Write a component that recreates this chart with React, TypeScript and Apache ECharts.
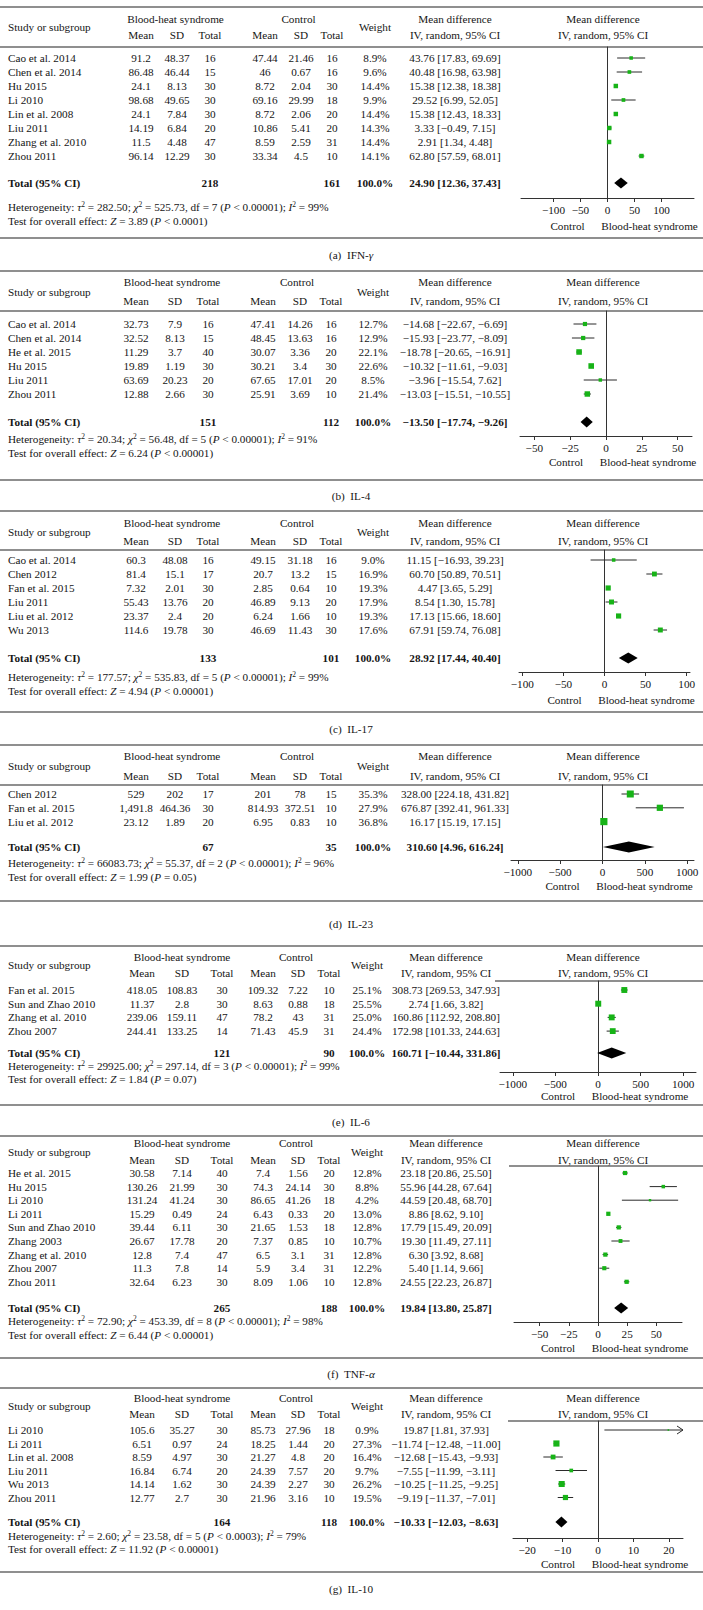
import React, { useEffect, useRef } from "react";
import * as echarts from "echarts";

const FONT = '"Liberation Serif", "DejaVu Serif", serif';
const FS = 11.2;
const INK = "#151515";
const RULE = "#6a6a6a";
const GREEN = "#17b317";

// ---------- (a) IFN-γ ----------
const IFN_STUDIES = ["Cao et al. 2014", "Chen et al. 2014", "Hu 2015", "Li 2010", "Lin et al. 2008", "Liu 2011", "Zhang et al. 2010", "Zhou 2011"];
const IFN_BH = [["91.2", "48.37", "16"], ["86.48", "46.44", "15"], ["24.1", "8.13", "30"], ["98.68", "49.65", "30"], ["24.1", "7.84", "30"], ["14.19", "6.84", "20"], ["11.5", "4.48", "47"], ["96.14", "12.29", "30"]];
const IFN_CT = [["47.44", "21.46", "16"], ["46", "0.67", "16"], ["8.72", "2.04", "30"], ["69.16", "29.99", "18"], ["8.72", "2.06", "20"], ["10.86", "5.41", "20"], ["8.59", "2.59", "31"], ["33.34", "4.5", "10"]];
const IFN_WEIGHT = [8.9, 9.6, 14.4, 9.9, 14.4, 14.3, 14.4, 14.1];
const IFN_MD = [[43.76, 17.83, 69.69], [40.48, 16.98, 63.98], [15.38, 12.38, 18.38], [29.52, 6.99, 52.05], [15.38, 12.43, 18.33], [3.33, -0.49, 7.15], [2.91, 1.34, 4.48], [62.8, 57.59, 68.01]];
const IFN_TOTAL_N = [218, 161];
const IFN_TOTAL_MD = [24.9, 12.36, 37.43];
const IFN_HET = ["282.50", "525.73", "7", "< 0.00001", "99"];
const IFN_Z = ["3.89", "< 0.0001"];
const IFN_TICKS = [-100, -50, 0, 50, 100];

// ---------- (b) IL-4 ----------
const IL4_STUDIES = ["Cao et al. 2014", "Chen et al. 2014", "He et al. 2015", "Hu 2015", "Liu 2011", "Zhou 2011"];
const IL4_BH = [["32.73", "7.9", "16"], ["32.52", "8.13", "15"], ["11.29", "3.7", "40"], ["19.89", "1.19", "30"], ["63.69", "20.23", "20"], ["12.88", "2.66", "30"]];
const IL4_CT = [["47.41", "14.26", "16"], ["48.45", "13.63", "16"], ["30.07", "3.36", "20"], ["30.21", "3.4", "30"], ["67.65", "17.01", "20"], ["25.91", "3.69", "10"]];
const IL4_WEIGHT = [12.7, 12.9, 22.1, 22.6, 8.5, 21.4];
const IL4_MD = [[-14.68, -22.67, -6.69], [-15.93, -23.77, -8.09], [-18.78, -20.65, -16.91], [-10.32, -11.61, -9.03], [-3.96, -15.54, 7.62], [-13.03, -15.51, -10.55]];
const IL4_TOTAL_N = [151, 112];
const IL4_TOTAL_MD = [-13.5, -17.74, -9.26];
const IL4_HET = ["20.34", "56.48", "5", "< 0.00001", "91"];
const IL4_Z = ["6.24", "< 0.00001"];
const IL4_TICKS = [-50, -25, 0, 25, 50];

// ---------- (c) IL-17 ----------
const IL17_STUDIES = ["Cao et al. 2014", "Chen 2012", "Fan et al. 2015", "Liu 2011", "Liu et al. 2012", "Wu 2013"];
const IL17_BH = [["60.3", "48.08", "16"], ["81.4", "15.1", "17"], ["7.32", "2.01", "30"], ["55.43", "13.76", "20"], ["23.37", "2.4", "20"], ["114.6", "19.78", "30"]];
const IL17_CT = [["49.15", "31.18", "16"], ["20.7", "13.2", "15"], ["2.85", "0.64", "10"], ["46.89", "9.13", "20"], ["6.24", "1.66", "10"], ["46.69", "11.43", "30"]];
const IL17_WEIGHT = [9.0, 16.9, 19.3, 17.9, 19.3, 17.6];
const IL17_MD = [[11.15, -16.93, 39.23], [60.7, 50.89, 70.51], [4.47, 3.65, 5.29], [8.54, 1.3, 15.78], [17.13, 15.66, 18.6], [67.91, 59.74, 76.08]];
const IL17_TOTAL_N = [133, 101];
const IL17_TOTAL_MD = [28.92, 17.44, 40.4];
const IL17_HET = ["177.57", "535.83", "5", "< 0.00001", "99"];
const IL17_Z = ["4.94", "< 0.00001"];
const IL17_TICKS = [-100, -50, 0, 50, 100];

// ---------- (d) IL-23 ----------
const IL23_STUDIES = ["Chen 2012", "Fan et al. 2015", "Liu et al. 2012"];
const IL23_BH = [["529", "202", "17"], ["1,491.8", "464.36", "30"], ["23.12", "1.89", "20"]];
const IL23_CT = [["201", "78", "15"], ["814.93", "372.51", "10"], ["6.95", "0.83", "10"]];
const IL23_WEIGHT = [35.3, 27.9, 36.8];
const IL23_MD = [[328.0, 224.18, 431.82], [676.87, 392.41, 961.33], [16.17, 15.19, 17.15]];
const IL23_TOTAL_N = [67, 35];
const IL23_TOTAL_MD = [310.6, 4.96, 616.24];
const IL23_HET = ["66083.73", "55.37", "2", "< 0.00001", "96"];
const IL23_Z = ["1.99", "= 0.05"];
const IL23_TICKS = [-1000, -500, 0, 500, 1000];

// ---------- (e) IL-6 ----------
const IL6_STUDIES = ["Fan et al. 2015", "Sun and Zhao 2010", "Zhang et al. 2010", "Zhou 2007"];
const IL6_BH = [["418.05", "108.83", "30"], ["11.37", "2.8", "30"], ["239.06", "159.11", "47"], ["244.41", "133.25", "14"]];
const IL6_CT = [["109.32", "7.22", "10"], ["8.63", "0.88", "18"], ["78.2", "43", "31"], ["71.43", "45.9", "31"]];
const IL6_WEIGHT = [25.1, 25.5, 25.0, 24.4];
const IL6_MD = [[308.73, 269.53, 347.93], [2.74, 1.66, 3.82], [160.86, 112.92, 208.8], [172.98, 101.33, 244.63]];
const IL6_TOTAL_N = [121, 90];
const IL6_TOTAL_MD = [160.71, -10.44, 331.86];
const IL6_HET = ["29925.00", "297.14", "3", "< 0.00001", "99"];
const IL6_Z = ["1.84", "= 0.07"];
const IL6_TICKS = [-1000, -500, 0, 500, 1000];

// ---------- (f) TNF-α ----------
const TNF_STUDIES = ["He et al. 2015", "Hu 2015", "Li 2010", "Li 2011", "Sun and Zhao 2010", "Zhang 2003", "Zhang et al. 2010", "Zhou 2007", "Zhou 2011"];
const TNF_BH = [["30.58", "7.14", "40"], ["130.26", "21.99", "30"], ["131.24", "41.24", "30"], ["15.29", "0.49", "24"], ["39.44", "6.11", "30"], ["26.67", "17.78", "20"], ["12.8", "7.4", "47"], ["11.3", "7.8", "14"], ["32.64", "6.23", "30"]];
const TNF_CT = [["7.4", "1.56", "20"], ["74.3", "24.14", "30"], ["86.65", "41.26", "18"], ["6.43", "0.33", "20"], ["21.65", "1.53", "18"], ["7.37", "0.85", "10"], ["6.5", "3.1", "31"], ["5.9", "3.4", "31"], ["8.09", "1.06", "10"]];
const TNF_WEIGHT = [12.8, 8.8, 4.2, 13.0, 12.8, 10.7, 12.8, 12.2, 12.8];
const TNF_MD = [[23.18, 20.86, 25.5], [55.96, 44.28, 67.64], [44.59, 20.48, 68.7], [8.86, 8.62, 9.1], [17.79, 15.49, 20.09], [19.3, 11.49, 27.11], [6.3, 3.92, 8.68], [5.4, 1.14, 9.66], [24.55, 22.23, 26.87]];
const TNF_TOTAL_N = [265, 188];
const TNF_TOTAL_MD = [19.84, 13.8, 25.87];
const TNF_HET = ["72.90", "453.39", "8", "< 0.00001", "98"];
const TNF_Z = ["6.44", "< 0.00001"];
const TNF_TICKS = [-50, -25, 0, 25, 50];

// ---------- (g) IL-10 ----------
const IL10_STUDIES = ["Li 2010", "Li 2011", "Lin et al. 2008", "Liu 2011", "Wu 2013", "Zhou 2011"];
const IL10_BH = [["105.6", "35.27", "30"], ["6.51", "0.97", "24"], ["8.59", "4.97", "30"], ["16.84", "6.74", "20"], ["14.14", "1.62", "30"], ["12.77", "2.7", "30"]];
const IL10_CT = [["85.73", "27.96", "18"], ["18.25", "1.44", "20"], ["21.27", "4.8", "20"], ["24.39", "7.57", "20"], ["24.39", "2.27", "30"], ["21.96", "3.16", "10"]];
const IL10_WEIGHT = [0.9, 27.3, 16.4, 9.7, 26.2, 19.5];
const IL10_MD = [[19.87, 1.81, 37.93], [-11.74, -12.48, -11.0], [-12.68, -15.43, -9.93], [-7.55, -11.99, -3.11], [-10.25, -11.25, -9.25], [-9.19, -11.37, -7.01]];
const IL10_TOTAL_N = [164, 118];
const IL10_TOTAL_MD = [-10.33, -12.03, -8.63];
const IL10_HET = ["2.60", "23.58", "5", "< 0.0003", "79"];
const IL10_Z = ["11.92", "< 0.00001"];
const IL10_TICKS = [-20, -10, 0, 10, 20];

const CAPTIONS = [["(a)", "IFN-", "γ"], ["(b)", "IL-4", ""], ["(c)", "IL-17", ""], ["(d)", "IL-23", ""], ["(e)", "IL-6", ""], ["(f)", "TNF-", "α"], ["(g)", "IL-10", ""]];

// ---------- layout (positions only) ----------
const COLS_A = [141, 177, 210, 265, 301, 332, 375, 455];
const COLS_B = [136, 175, 208, 263, 300, 331, 373, 455];
const COLS_E = [142, 182, 222, 263, 298, 329, 367, 446];

const LAYOUT = [
  { top: 7, h1: 19, h2: 35, hline: 47, hFull: true, row0: 58, rowH: 14, total: 183, het: 207, test: 221, axis: 198, lab: 226, bottom: 238, caption: 255, cols: COLS_A, gridL: 521, gridR: 694, xMin: -160, xMax: 160 },
  { top: 271, h1: 282, h2: 301, hline: 311, hFull: true, row0: 324, rowH: 14, total: 422, het: 439, test: 453, axis: 436, lab: 462, bottom: 480, caption: 496, cols: COLS_B, gridL: 520, gridR: 692, xMin: -60, xMax: 60 },
  { top: 511, h1: 523, h2: 541, hline: 550, hFull: true, row0: 560, rowH: 14, total: 658, het: 677, test: 691, axis: 672, lab: 700, bottom: 712, caption: 729, cols: COLS_B, gridL: 519, gridR: 690, xMin: -104, xMax: 104 },
  { top: 745, h1: 756, h2: 776, hline: 785, hFull: true, row0: 794, rowH: 13.8, total: 847, het: 863, test: 877, axis: 860, lab: 886, bottom: 901, caption: 924, cols: COLS_B, gridL: 511, gridR: 694, xMin: -1080, xMax: 1080 },
  { top: 946, h1: 957, h2: 973, hline: 981, hFull: false, row0: 990, rowH: 13.7, total: 1053, het: 1066, test: 1079, axis: 1072, lab: 1096, bottom: 1105, caption: 1122, cols: COLS_E, gridL: 500, gridR: 696, xMin: -1150, xMax: 1150 },
  { top: 1136, h1: 1143, h2: 1160, hline: 1166, hFull: false, row0: 1173, rowH: 13.6, total: 1308, het: 1321, test: 1335, axis: 1322, lab: 1348, bottom: 1358, caption: 1374, cols: COLS_E, gridL: 514, gridR: 682, xMin: -72, xMax: 72 },
  { top: 1388, h1: 1398, h2: 1414, hline: 1421, hFull: false, row0: 1430, rowH: 13.5, total: 1522, het: 1536, test: 1549, axis: 1538, lab: 1564, bottom: 1572, caption: 1589, cols: COLS_E, gridL: 513, gridR: 683, xMin: -24, xMax: 24 },
];

const PANELS = [
  { studies: IFN_STUDIES, bh: IFN_BH, ct: IFN_CT, weight: IFN_WEIGHT, md: IFN_MD, totalN: IFN_TOTAL_N, totalMd: IFN_TOTAL_MD, het: IFN_HET, z: IFN_Z, ticks: IFN_TICKS },
  { studies: IL4_STUDIES, bh: IL4_BH, ct: IL4_CT, weight: IL4_WEIGHT, md: IL4_MD, totalN: IL4_TOTAL_N, totalMd: IL4_TOTAL_MD, het: IL4_HET, z: IL4_Z, ticks: IL4_TICKS },
  { studies: IL17_STUDIES, bh: IL17_BH, ct: IL17_CT, weight: IL17_WEIGHT, md: IL17_MD, totalN: IL17_TOTAL_N, totalMd: IL17_TOTAL_MD, het: IL17_HET, z: IL17_Z, ticks: IL17_TICKS },
  { studies: IL23_STUDIES, bh: IL23_BH, ct: IL23_CT, weight: IL23_WEIGHT, md: IL23_MD, totalN: IL23_TOTAL_N, totalMd: IL23_TOTAL_MD, het: IL23_HET, z: IL23_Z, ticks: IL23_TICKS },
  { studies: IL6_STUDIES, bh: IL6_BH, ct: IL6_CT, weight: IL6_WEIGHT, md: IL6_MD, totalN: IL6_TOTAL_N, totalMd: IL6_TOTAL_MD, het: IL6_HET, z: IL6_Z, ticks: IL6_TICKS },
  { studies: TNF_STUDIES, bh: TNF_BH, ct: TNF_CT, weight: TNF_WEIGHT, md: TNF_MD, totalN: TNF_TOTAL_N, totalMd: TNF_TOTAL_MD, het: TNF_HET, z: TNF_Z, ticks: TNF_TICKS },
  { studies: IL10_STUDIES, bh: IL10_BH, ct: IL10_CT, weight: IL10_WEIGHT, md: IL10_MD, totalN: IL10_TOTAL_N, totalMd: IL10_TOTAL_MD, het: IL10_HET, z: IL10_Z, ticks: IL10_TICKS },
];

const num = (v: number) => v.toFixed(2).replace("-", "−");
const ci = (m: number[]) => `${num(m[0])} [${num(m[1])}, ${num(m[2])}]`;

const RICH = {
  i: { fontStyle: "italic", fontSize: FS, fontFamily: FONT, lineHeight: 14, fill: INK, color: INK },
  sup: { fontSize: 7.5, fontFamily: FONT, lineHeight: 9, verticalAlign: "top", fill: INK, color: INK },
  n: { fontSize: FS, fontFamily: FONT, lineHeight: 14, fill: INK, color: INK },
};

function txt(x: number, y: number, text: string, align = "center", bold = false) {
  return {
    type: "text",
    x,
    y,
    silent: true,
    style: {
      text,
      fill: INK,
      fontSize: FS,
      fontFamily: FONT,
      fontWeight: bold ? "bold" : "normal",
      align,
      verticalAlign: "middle",
      textAlign: align,
      textVerticalAlign: "middle",
    },
  };
}

function richTxt(x: number, y: number, text: string, align = "left") {
  return {
    type: "text",
    x,
    y,
    silent: true,
    style: {
      text,
      fill: INK,
      fontSize: FS,
      fontFamily: FONT,
      lineHeight: 14,
      align,
      verticalAlign: "middle",
      textAlign: align,
      textVerticalAlign: "middle",
      rich: RICH,
    },
  };
}

function rule(x1: number, x2: number, y: number) {
  return { type: "line", silent: true, shape: { x1, y1: y, x2, y2: y }, style: { stroke: RULE, lineWidth: 1.3 } };
}

function buildOption() {
  const graphic: any[] = [];
  const grid: any[] = [];
  const xAxis: any[] = [];
  const yAxis: any[] = [];
  const series: any[] = [];

  PANELS.forEach((p, pi) => {
    const L = LAYOUT[pi];
    const c = L.cols;
    const zeroX = L.gridL + ((0 - L.xMin) / (L.xMax - L.xMin)) * (L.gridR - L.gridL);

    graphic.push(rule(0, 703, L.top));
    graphic.push(rule(L.hFull ? 0 : L.gridL - 5, 703, L.hline));
    graphic.push(rule(0, 703, L.bottom));

    const mid = (L.h1 + L.h2) / 2;
    graphic.push(txt(8, mid, "Study or subgroup", "left"));
    graphic.push(txt((c[0] + c[2]) / 2, L.h1, "Blood-heat syndrome"));
    graphic.push(txt((c[3] + c[5]) / 2, L.h1, "Control"));
    ["Mean", "SD", "Total", "Mean", "SD", "Total"].forEach((h, k) => graphic.push(txt(c[k], L.h2, h)));
    graphic.push(txt(c[6], mid, "Weight"));
    graphic.push(txt(c[7], L.h1, "Mean difference"));
    graphic.push(txt(c[7], L.h2, "IV, random, 95% CI"));
    graphic.push(txt(603, L.h1, "Mean difference"));
    graphic.push(txt(603, L.h2, "IV, random, 95% CI"));

    p.studies.forEach((s, i) => {
      const y = L.row0 + i * L.rowH;
      graphic.push(txt(8, y, s, "left"));
      p.bh[i].forEach((v, k) => graphic.push(txt(c[k], y, v)));
      p.ct[i].forEach((v, k) => graphic.push(txt(c[3 + k], y, v)));
      graphic.push(txt(c[6], y, p.weight[i].toFixed(1) + "%"));
      graphic.push(txt(c[7], y, ci(p.md[i])));
    });

    graphic.push(txt(8, L.total, "Total (95% CI)", "left", true));
    graphic.push(txt(c[2], L.total, String(p.totalN[0]), "center", true));
    graphic.push(txt(c[5], L.total, String(p.totalN[1]), "center", true));
    graphic.push(txt(c[6], L.total, "100.0%", "center", true));
    graphic.push(txt(c[7], L.total, ci(p.totalMd), "center", true));

    const h = p.het;
    graphic.push(
      richTxt(8, L.het, `Heterogeneity: {i|τ}{sup|2} = ${h[0]}; {i|χ}{sup|2} = ${h[1]}, df = ${h[2]} ({i|P} ${h[3]}); {i|I}{sup|2} = ${h[4]}%`)
    );
    graphic.push(richTxt(8, L.test, `Test for overall effect: {i|Z} = ${p.z[0]} ({i|P} ${p.z[1]})`));

    graphic.push(txt(zeroX - 40, L.lab, "Control"));
    graphic.push(txt(zeroX + 42, L.lab, "Blood-heat syndrome"));

    const cap = CAPTIONS[pi];
    graphic.push(richTxt(351, L.caption, `${cap[0]}  ${cap[1]}${cap[2] ? "{i|" + cap[2] + "}" : ""}`, "center"));

    const yMin = -(L.row0 - L.hline) / L.rowH;
    const yMax = (L.axis - L.row0) / L.rowH;
    const totalRow = (L.total - L.row0) / L.rowH;
    grid.push({ left: L.gridL, top: L.hline, width: L.gridR - L.gridL, height: L.axis - L.hline, containLabel: false });
    xAxis.push({
      type: "value",
      gridIndex: pi,
      min: L.xMin,
      max: L.xMax,
      position: "bottom",
      axisLine: { show: true, onZero: false, lineStyle: { color: "#333", width: 1 } },
      axisTick: { show: true, length: 4, inside: false, customValues: p.ticks, lineStyle: { color: "#333", width: 1 } },
      axisLabel: {
        show: true,
        customValues: p.ticks,
        margin: 6,
        fontSize: FS,
        fontFamily: FONT,
        color: INK,
        formatter: (v: number) => String(v).replace("-", "−"),
      },
      splitLine: { show: false },
    });
    yAxis.push({
      type: "value",
      gridIndex: pi,
      inverse: true,
      min: yMin,
      max: yMax,
      axisLine: { show: true, onZero: true, lineStyle: { color: "#333", width: 1 } },
      axisTick: { show: false },
      axisLabel: { show: false },
      splitLine: { show: false },
    });

    const xMin = L.xMin;
    const xMax = L.xMax;
    series.push({
      type: "custom",
      xAxisIndex: pi,
      yAxisIndex: pi,
      clip: false,
      encode: { x: [0, 1, 2], y: 4 },
      data: p.md.map((m, i) => [m[0], m[1], m[2], p.weight[i], i]),
      renderItem: (_params: any, api: any) => {
        const md = api.value(0);
        const lo = api.value(1);
        const hi = api.value(2);
        const w = api.value(3);
        const row = api.value(4);
        const a = api.coord([Math.max(lo, xMin), row]);
        const b = api.coord([Math.min(hi, xMax), row]);
        const m = api.coord([md, row]);
        const s = Math.max(1.6, 1.18 * Math.sqrt(w));
        const children: any[] = [
          { type: "line", shape: { x1: a[0], y1: a[1], x2: b[0], y2: b[1] }, style: { stroke: "#2b2b2b", lineWidth: 1 } },
          { type: "rect", shape: { x: m[0] - s / 2, y: m[1] - s / 2, width: s, height: s }, style: { fill: GREEN } },
        ];
        if (hi > xMax) {
          children.push({
            type: "polyline",
            shape: { points: [[b[0] - 6, b[1] - 4], [b[0], b[1]], [b[0] - 6, b[1] + 4]] },
            style: { stroke: "#2b2b2b", fill: null, lineWidth: 1 },
          });
        }
        return { type: "group", children };
      },
    });
    series.push({
      type: "custom",
      xAxisIndex: pi,
      yAxisIndex: pi,
      clip: false,
      encode: { x: [0, 1, 2], y: 3 },
      data: [[p.totalMd[0], p.totalMd[1], p.totalMd[2], totalRow]],
      renderItem: (_params: any, api: any) => {
        const row = api.value(3);
        const e = api.coord([api.value(0), row]);
        const l = api.coord([api.value(1), row]);
        const r = api.coord([api.value(2), row]);
        return {
          type: "polygon",
          shape: { points: [[l[0], e[1]], [e[0], e[1] - 5.5], [r[0], e[1]], [e[0], e[1] + 5.5]] },
          style: { fill: "#000" },
        };
      },
    });
  });

  return { animation: false, backgroundColor: "#fff", grid, xAxis, yAxis, series, graphic };
}

export default function App() {
  const ref = useRef<HTMLDivElement>(null);
  useEffect(() => {
    document.body.style.margin = "0";
    if (!ref.current) return;
    const chart = echarts.init(ref.current, undefined, { renderer: "svg" });
    chart.setOption(buildOption() as any);
    return () => chart.dispose();
  }, []);
  return <div ref={ref} style={{ width: 703, height: 1610, background: "#fff" }} />;
}
